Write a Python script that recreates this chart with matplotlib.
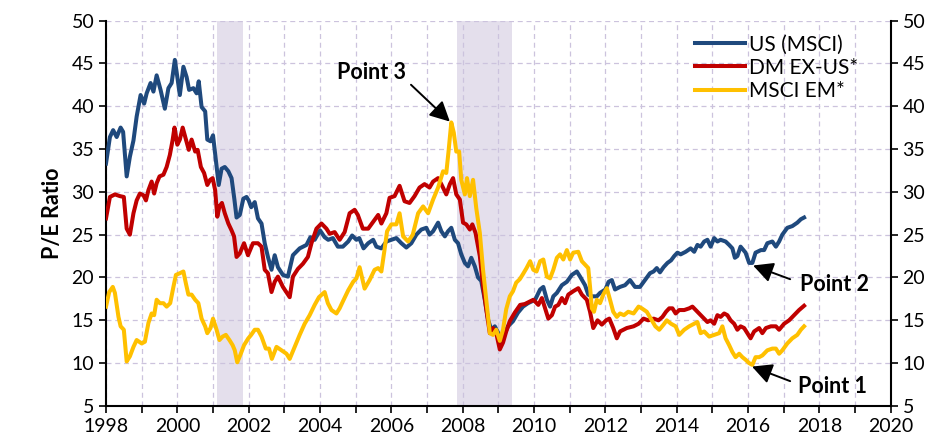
import numpy as np
import matplotlib
matplotlib.use("Agg")
import matplotlib.pyplot as plt
from matplotlib.ticker import MultipleLocator

plt.rcParams['font.family'] = ['Lato', 'DejaVu Sans']

# values (decimal year, P/E)
us_t = [1998.0, 1998.11, 1998.2, 1998.3, 1998.41, 1998.48, 1998.58, 1998.67, 1998.77, 1998.86,
        1998.97, 1999.07, 1999.14, 1999.25, 1999.33, 1999.42, 1999.53, 1999.65, 1999.75, 1999.84,
        1999.93, 2000.0, 2000.07, 2000.17, 2000.26, 2000.33, 2000.45, 2000.54, 2000.6, 2000.68,
        2000.78, 2000.84, 2000.93, 2001.0, 2001.08, 2001.16, 2001.24, 2001.33, 2001.43, 2001.52,
        2001.6, 2001.66, 2001.75, 2001.85, 2001.94, 2002.0, 2002.07, 2002.17, 2002.26, 2002.36,
        2002.45, 2002.54, 2002.64, 2002.73, 2002.82, 2002.96, 2003.1, 2003.24, 2003.43, 2003.62,
        2003.73, 2003.85, 2004.0, 2004.13, 2004.23, 2004.36, 2004.5, 2004.64, 2004.79, 2004.9,
        2005.02, 2005.1, 2005.22, 2005.35, 2005.49, 2005.58, 2005.72, 2005.86, 2006.0, 2006.14,
        2006.28, 2006.42, 2006.56, 2006.7, 2006.84, 2006.98, 2007.07, 2007.17, 2007.31, 2007.4,
        2007.5, 2007.59, 2007.68, 2007.78, 2007.87, 2007.96, 2008.06, 2008.15, 2008.24, 2008.34,
        2008.43, 2008.52, 2008.62, 2008.71, 2008.8, 2008.9, 2009.0, 2009.08, 2009.18, 2009.27,
        2009.41, 2009.55, 2009.69, 2009.83, 2010.03, 2010.17, 2010.26, 2010.36, 2010.45, 2010.54,
        2010.64, 2010.78, 2010.92, 2011.06, 2011.2, 2011.29, 2011.43, 2011.52, 2011.62, 2011.76,
        2011.85, 2012.0, 2012.09, 2012.18, 2012.27, 2012.41, 2012.55, 2012.69, 2012.83, 2012.97,
        2013.11, 2013.25, 2013.35, 2013.44, 2013.53, 2013.63, 2013.74, 2013.84, 2013.93, 2014.02,
        2014.11, 2014.25, 2014.39, 2014.49, 2014.58, 2014.67, 2014.77, 2014.86, 2014.95, 2015.05,
        2015.14, 2015.23, 2015.37, 2015.47, 2015.56, 2015.63, 2015.7, 2015.79, 2015.87, 2015.93,
        2016.03, 2016.12, 2016.21, 2016.36, 2016.45, 2016.54, 2016.68, 2016.78, 2016.87, 2016.96,
        2017.1, 2017.24, 2017.38, 2017.48, 2017.57]
us_pe = [33.3, 36.4, 37.2, 36.4, 37.5, 37.0, 31.8, 34.1, 36.0, 38.8,
         41.3, 40.3, 41.5, 42.7, 41.7, 43.6, 41.9, 39.7, 42.1, 42.7,
         45.4, 43.4, 41.3, 44.6, 43.4, 41.9, 42.1, 41.5, 42.9, 39.9,
         39.4, 36.1, 35.9, 36.6, 33.7, 30.8, 32.7, 32.9, 32.4, 31.6,
         29.1, 27.0, 27.3, 29.2, 29.4, 29.0, 28.2, 28.8, 26.9, 26.3,
         24.0, 22.4, 20.9, 22.6, 21.2, 20.3, 20.1, 22.6, 23.4, 23.8,
         24.7, 24.4, 25.5, 24.7, 24.4, 24.6, 23.6, 23.6, 24.2, 24.9,
         24.4, 24.6, 23.4, 24.0, 24.4, 23.6, 23.4, 24.2, 24.4, 24.6,
         24.0, 23.5, 24.0, 25.0, 25.6, 25.8, 25.0, 25.4, 26.4, 25.4,
         24.8, 25.4, 25.8, 24.4, 24.0, 22.7, 21.7, 21.3, 22.3, 21.3,
         20.0, 19.6, 17.4, 15.1, 13.9, 14.3, 13.5, 12.4, 13.5, 14.3,
         14.9, 15.9, 16.6, 17.0, 17.4, 18.6, 18.9, 17.4, 16.6, 17.8,
         18.2, 19.1, 19.5, 20.3, 20.7, 20.1, 19.1, 18.0, 17.8, 17.8,
         18.2, 18.6, 19.5, 19.7, 18.6, 18.9, 19.1, 19.7, 18.9, 18.9,
         19.7, 20.5, 20.7, 21.1, 20.6, 21.2, 21.7, 22.0, 22.5, 22.9,
         22.7, 23.0, 23.4, 23.0, 23.8, 23.6, 24.2, 24.4, 23.6, 24.6,
         24.2, 24.4, 24.2, 23.8, 23.4, 22.3, 22.5, 23.6, 23.2, 22.9,
         21.7, 21.7, 22.9, 23.2, 23.2, 24.0, 24.2, 23.6, 24.2, 25.0,
         25.8, 26.0, 26.4, 26.8, 27.0]

dm_t = [1998.0, 1998.11, 1998.25, 1998.39, 1998.5, 1998.58, 1998.67, 1998.77, 1998.86, 1998.95,
        1999.05, 1999.12, 1999.19, 1999.28, 1999.35, 1999.42, 1999.5, 1999.61, 1999.7, 1999.79,
        1999.87, 1999.92, 2000.0, 2000.07, 2000.15, 2000.24, 2000.32, 2000.4, 2000.5, 2000.57,
        2000.66, 2000.75, 2000.84, 2000.92, 2000.99, 2001.06, 2001.12, 2001.18, 2001.25, 2001.33,
        2001.43, 2001.52, 2001.59, 2001.66, 2001.75, 2001.87, 2001.98, 2002.12, 2002.26, 2002.36,
        2002.45, 2002.54, 2002.64, 2002.73, 2002.82, 2002.96, 2003.15, 2003.24, 2003.38, 2003.52,
        2003.66, 2003.76, 2003.9, 2004.04, 2004.18, 2004.27, 2004.41, 2004.55, 2004.69, 2004.83,
        2004.97, 2005.06, 2005.2, 2005.35, 2005.49, 2005.63, 2005.72, 2005.86, 2005.95, 2006.09,
        2006.23, 2006.37, 2006.51, 2006.65, 2006.79, 2006.93, 2007.07, 2007.17, 2007.31, 2007.4,
        2007.54, 2007.64, 2007.73, 2007.82, 2007.92, 2008.01, 2008.1, 2008.2, 2008.27, 2008.36,
        2008.48, 2008.57, 2008.66, 2008.76, 2008.85, 2008.94, 2009.04, 2009.13, 2009.22, 2009.32,
        2009.46, 2009.61, 2009.74, 2009.88, 2009.98, 2010.12, 2010.22, 2010.31, 2010.4, 2010.5,
        2010.59, 2010.68, 2010.78, 2010.87, 2010.96, 2011.1, 2011.24, 2011.34, 2011.48, 2011.57,
        2011.66, 2011.78, 2011.9, 2012.02, 2012.11, 2012.22, 2012.32, 2012.41, 2012.6, 2012.79,
        2012.93, 2013.07, 2013.2, 2013.35, 2013.49, 2013.6, 2013.7, 2013.79, 2013.88, 2013.97,
        2014.07, 2014.21, 2014.35, 2014.44, 2014.58, 2014.72, 2014.86, 2014.95, 2015.05, 2015.14,
        2015.23, 2015.33, 2015.42, 2015.51, 2015.61, 2015.7, 2015.79, 2015.89, 2015.98, 2016.07,
        2016.17, 2016.31, 2016.4, 2016.5, 2016.64, 2016.78, 2016.87, 2017.01, 2017.15, 2017.29,
        2017.43, 2017.57]
dm_pe = [26.9, 29.4, 29.7, 29.5, 29.4, 25.7, 25.0, 27.5, 29.0, 29.8,
         29.6, 29.0, 30.2, 31.2, 29.8, 31.0, 31.8, 32.0, 32.9, 34.3,
         36.1, 37.5, 35.5, 36.1, 37.5, 36.1, 34.9, 36.1, 34.7, 34.9,
         32.9, 32.2, 30.8, 31.4, 31.6, 30.2, 27.1, 28.3, 28.7, 27.5,
         26.3, 25.5, 24.8, 22.4, 22.8, 24.0, 22.6, 24.0, 24.0, 23.6,
         20.9, 20.5, 18.3, 19.5, 20.1, 18.9, 17.7, 20.1, 21.0, 21.6,
         22.4, 24.0, 25.7, 26.3, 25.7, 25.1, 25.3, 24.4, 25.3, 27.5,
         27.9, 27.3, 25.7, 25.7, 26.5, 27.3, 26.3, 27.5, 29.3, 29.5,
         30.7, 28.9, 28.7, 29.5, 30.5, 30.9, 30.5, 31.2, 31.6, 30.9,
         29.7, 30.9, 31.6, 29.7, 29.1, 26.4, 26.2, 25.6, 26.2, 25.2,
         22.5, 19.0, 16.3, 13.5, 14.1, 13.5, 11.6, 12.4, 13.7, 14.9,
         15.9, 16.8, 16.9, 17.2, 17.4, 16.8, 17.6, 16.4, 15.2, 15.6,
         16.6, 16.8, 17.6, 17.0, 18.0, 18.4, 18.75, 18.0, 17.4, 16.0,
         14.1, 15.0, 14.5, 15.0, 15.2, 14.1, 12.9, 13.7, 14.1, 14.3,
         14.6, 15.2, 15.0, 15.2, 15.0, 15.4, 16.0, 16.4, 16.4, 15.8,
         16.2, 16.2, 16.4, 16.6, 16.0, 15.4, 14.8, 15.0, 14.6, 15.6,
         15.4, 15.8, 15.6, 15.0, 14.6, 13.9, 14.3, 14.1, 13.5, 12.9,
         13.7, 14.1, 13.5, 14.1, 14.3, 14.3, 13.9, 14.6, 15.0, 15.6,
         16.2, 16.7]

em_t = [1998.0, 1998.09, 1998.19, 1998.25, 1998.35, 1998.41, 1998.5, 1998.58, 1998.67, 1998.77,
        1998.86, 1999.0, 1999.09, 1999.19, 1999.28, 1999.35, 1999.42, 1999.51, 1999.61, 1999.7,
        1999.8, 1999.89, 1999.96, 2000.07, 2000.17, 2000.24, 2000.31, 2000.4, 2000.5, 2000.59,
        2000.68, 2000.78, 2000.84, 2000.93, 2001.0, 2001.1, 2001.18, 2001.27, 2001.36, 2001.46,
        2001.55, 2001.61, 2001.68, 2001.77, 2001.87, 2001.99, 2002.07, 2002.17, 2002.26, 2002.36,
        2002.48, 2002.57, 2002.65, 2002.78, 2002.92, 2003.06, 2003.15, 2003.29, 2003.43, 2003.57,
        2003.71, 2003.85, 2003.97, 2004.13, 2004.22, 2004.32, 2004.46, 2004.55, 2004.64, 2004.79,
        2004.93, 2005.02, 2005.11, 2005.25, 2005.39, 2005.53, 2005.63, 2005.72, 2005.8, 2005.88,
        2006.0, 2006.14, 2006.23, 2006.33, 2006.47, 2006.6, 2006.75, 2006.89, 2007.03, 2007.17,
        2007.31, 2007.45, 2007.54, 2007.6, 2007.68, 2007.75, 2007.82, 2007.9, 2007.96, 2008.06,
        2008.12, 2008.2, 2008.29, 2008.38, 2008.48, 2008.57, 2008.66, 2008.76, 2008.85, 2008.94,
        2009.04, 2009.13, 2009.22, 2009.32, 2009.41, 2009.5, 2009.6, 2009.69, 2009.79, 2009.89,
        2009.98, 2010.07, 2010.17, 2010.26, 2010.36, 2010.45, 2010.54, 2010.64, 2010.73, 2010.82,
        2010.92, 2011.01, 2011.1, 2011.24, 2011.34, 2011.43, 2011.52, 2011.57, 2011.62, 2011.68,
        2011.76, 2011.85, 2011.94, 2012.04, 2012.13, 2012.22, 2012.32, 2012.41, 2012.52, 2012.64,
        2012.79, 2012.93, 2013.02, 2013.16, 2013.3, 2013.4, 2013.51, 2013.63, 2013.72, 2013.84,
        2013.97, 2014.07, 2014.21, 2014.35, 2014.49, 2014.58, 2014.67, 2014.77, 2014.91, 2015.05,
        2015.19, 2015.28, 2015.37, 2015.47, 2015.56, 2015.65, 2015.75, 2015.84, 2015.93, 2016.03,
        2016.12, 2016.21, 2016.31, 2016.4, 2016.54, 2016.68, 2016.78, 2016.87, 2016.96, 2017.1,
        2017.24, 2017.38, 2017.48, 2017.57]
em_pe = [16.6, 18.3, 18.9, 18.2, 15.4, 14.3, 13.9, 10.2, 10.8, 11.9,
         12.7, 12.3, 12.5, 14.7, 15.8, 15.6, 17.4, 17.0, 17.0, 16.6,
         17.0, 18.9, 20.3, 20.5, 20.7, 19.3, 18.0, 18.0, 17.4, 17.0,
         15.2, 14.3, 13.5, 14.1, 15.2, 13.9, 12.7, 13.1, 13.3, 12.7,
         12.1, 11.5, 10.1, 11.0, 12.1, 12.9, 13.3, 13.9, 13.9, 13.1,
         11.7, 11.7, 10.5, 11.9, 11.5, 11.1, 10.5, 11.9, 13.3, 14.6,
         15.6, 16.8, 17.7, 18.3, 17.0, 16.2, 15.8, 16.4, 17.2, 18.5,
         19.5, 19.9, 21.2, 18.7, 19.7, 20.9, 21.1, 20.7, 23.0, 25.4,
         26.2, 26.2, 27.5, 24.8, 24.2, 25.0, 27.5, 28.3, 27.5, 29.1,
         30.5, 32.4, 32.2, 34.6, 38.1, 36.9, 34.7, 34.7, 31.4, 29.7,
         31.6, 29.5, 31.4, 28.1, 25.2, 20.9, 17.4, 13.5, 13.3, 13.9,
         12.6, 13.9, 16.3, 17.8, 18.4, 19.4, 19.8, 20.4, 21.1, 21.9,
         20.9, 20.7, 21.9, 22.1, 20.1, 19.9, 20.9, 22.3, 22.7, 22.1,
         23.2, 22.1, 22.9, 23.0, 21.9, 21.5, 21.1, 18.9, 16.4, 16.0,
         17.4, 17.0, 18.0, 18.75, 17.4, 16.0, 15.4, 15.8, 15.6, 16.0,
         15.8, 16.6, 16.4, 16.0, 15.0, 14.3, 13.9, 14.5, 15.0, 14.6,
         14.3, 13.3, 13.9, 14.3, 14.6, 14.8, 13.5, 13.7, 13.1, 13.3,
         13.5, 14.3, 12.9, 12.1, 11.3, 10.7, 11.1, 10.7, 10.4, 10.0,
         9.8, 10.7, 10.7, 10.9, 11.5, 11.7, 11.7, 11.1, 11.5, 12.3,
         12.9, 13.3, 13.9, 14.3]

series_names = ["US (MSCI)", "DM EX-US*", "MSCI EM*"]
series_colors = ["#1F497D", "#C00000", "#FFC000"]

recessions = [(2001.12, 2001.83), (2007.84, 2009.38)]

# callouts: label, text position, arrow tail, arrow tip
callouts = [("Point 3", (2005.45, 43.9), (2006.55, 42.5), (2007.64, 38.2)),
            ("Point 2", (2018.42, 19.2), (2017.18, 19.8), (2016.14, 21.4)),
            ("Point 1", (2018.36, 7.3), (2017.18, 7.9), (2016.11, 9.6))]

fig = plt.figure(figsize=(9.43, 4.4), dpi=100)
ax = fig.add_axes([0.1124, 0.0773, 0.8322, 0.8761])

for start, end in recessions:
    ax.axvspan(start, end, color="#E4DFEC", lw=0, zorder=0)

for t, pe, name, c in zip([us_t, dm_t, em_t], [us_pe, dm_pe, em_pe], series_names, series_colors):
    ax.plot(t, pe, color=c, lw=2.9, label=name, zorder=3, solid_joinstyle="round")

ax.set_xlim(1998, 2020)
ax.set_ylim(5, 50)
ax.xaxis.set_major_locator(MultipleLocator(2))
ax.xaxis.set_minor_locator(MultipleLocator(1))
ax.yaxis.set_major_locator(MultipleLocator(5))
ax.grid(True, which="both", axis="x", ls=(0, (4, 3)), color="#CCC3DD", lw=0.9, zorder=1)
ax.grid(True, which="major", axis="y", ls=(0, (4, 3)), color="#CCC3DD", lw=0.9, zorder=1)
ax.set_axisbelow(True)

ax.spines["top"].set_visible(False)
for s in ["left", "right", "bottom"]:
    ax.spines[s].set_linewidth(1.5)
ax.tick_params(axis="both", which="both", direction="out", width=1.2, labelsize=14, length=5)
ax.tick_params(axis="y", right=True, labelright=True)

ax.set_ylabel("P/E Ratio", fontsize=15.5, fontweight="bold", labelpad=6)

ax.legend(loc="upper left", bbox_to_anchor=(0.74, 0.985), frameon=False, fontsize=15,
          handlelength=2.4, labelspacing=0.15, handletextpad=0.2, borderaxespad=0)

for label, txt, tail, tip in callouts:
    ax.text(txt[0], txt[1], label, fontsize=15.5, fontweight="bold", ha="center", va="center")
    ax.annotate("", xy=tip, xytext=tail,
                arrowprops=dict(arrowstyle="-|>,head_length=0.55,head_width=0.28", color="black",
                                lw=1.4, mutation_scale=22, shrinkA=0, shrinkB=0))

fig.savefig("out.png", dpi=100)
